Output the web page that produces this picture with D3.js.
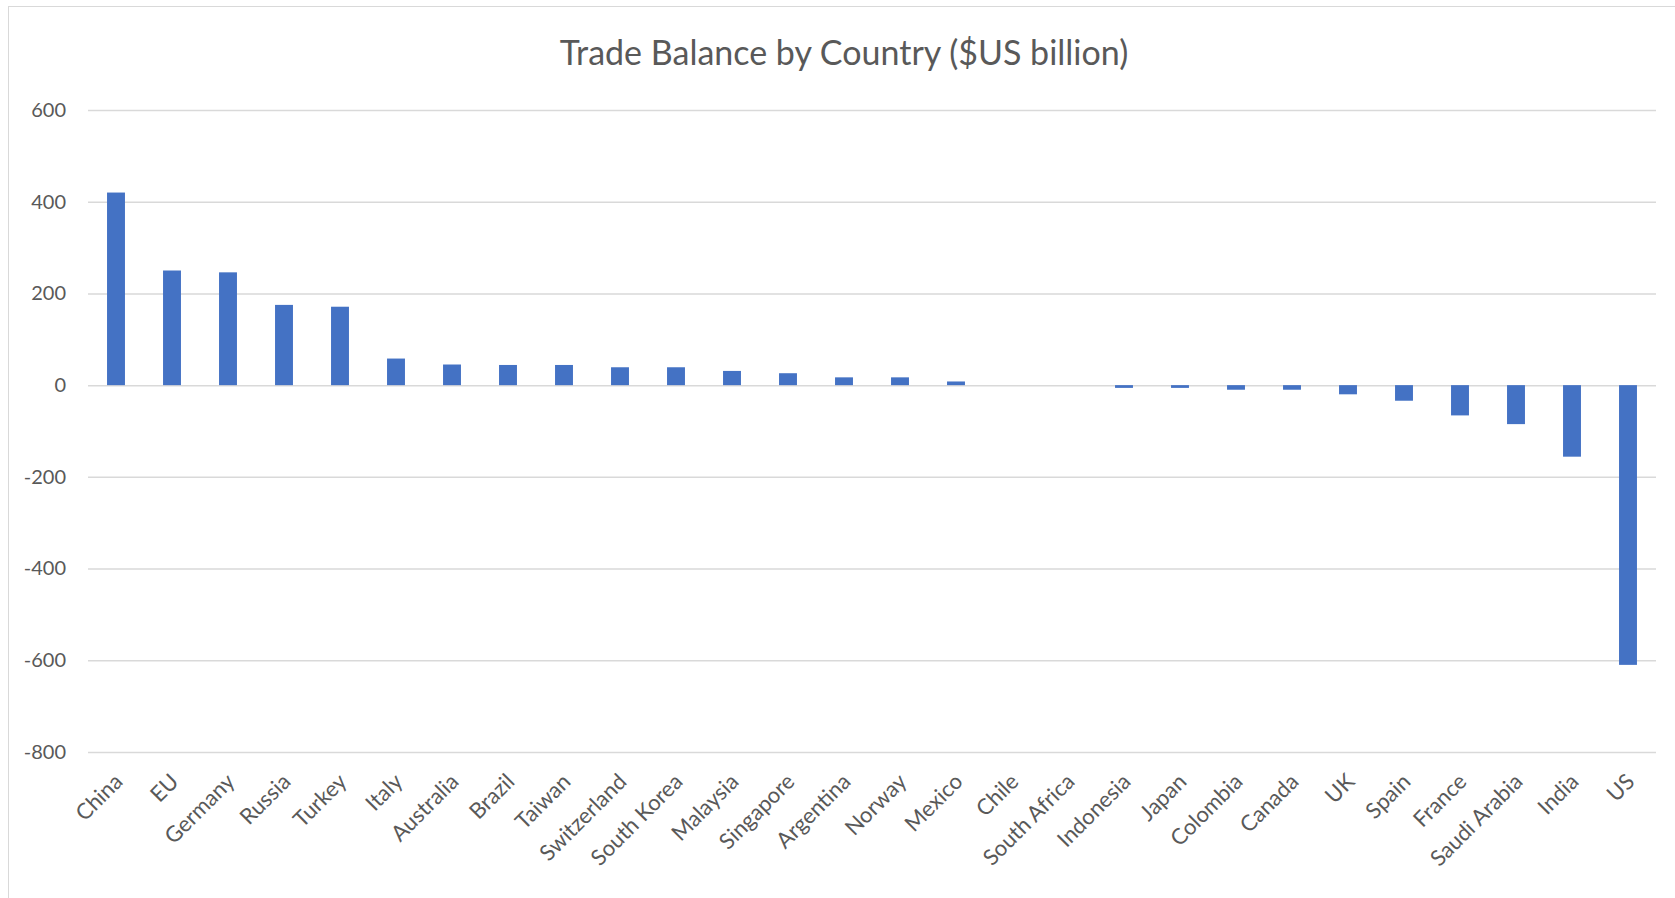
<!DOCTYPE html>
<html>
<head>
<meta charset="utf-8">
<script src="https://cdn.jsdelivr.net/npm/d3@7"></script>
<style>
  body { margin: 0; background: #fff; }
  svg text { font-family: Lato, "Open Sans", sans-serif; fill: #595959; }
</style>
</head>
<body>
<div id="chart"></div>
<script>
// chart data
const countries = ["China", "EU", "Germany", "Russia", "Turkey", "Italy", "Australia", "Brazil",
    "Taiwan", "Switzerland", "South Korea", "Malaysia", "Singapore", "Argentina", "Norway",
    "Mexico", "Chile", "South Africa", "Indonesia", "Japan", "Colombia", "Canada", "UK",
    "Spain", "France", "Saudi Arabia", "India", "US"];
const balance = [420, 250, 246, 175, 171, 58, 45, 44,
    44, 39, 39, 31, 26, 17, 17,
    8, 0, 0, -6, -6, -10, -10, -20,
    -34, -66, -85, -156, -610];
const yTicks = [600, 400, 200, 0, -200, -400, -600, -800];
const title = "Trade Balance by Country ($US billion)";

var width = 1675,
    height = 898,
    plotLeft = 88,
    plotRight = 1656,
    plotTop = 110,
    plotBottom = 752;

var svg = d3.select("#chart")
    .append("svg")
    .attr("width", width)
    .attr("height", height);

// outer chart frame
svg.append("rect")
    .attr("x", 8.5)
    .attr("y", 6.5)
    .attr("width", width)
    .attr("height", height)
    .attr("fill", "#fff")
    .attr("stroke", "#d9d9d9");

var x = d3.scaleBand()
    .domain(countries)
    .range([plotLeft, plotRight])
    .paddingInner(0.68)
    .paddingOuter(0.34);

var y = d3.scaleLinear()
    .domain([d3.min(yTicks), d3.max(yTicks)])
    .range([plotBottom, plotTop]);

// gridlines + y labels (plain hyphen for negatives, like Excel)
var yAxis = svg.append("g")
    .attr("transform", "translate(" + plotLeft + ",0)")
    .call(d3.axisLeft(y)
        .tickValues(yTicks)
        .tickSize(-(plotRight - plotLeft))
        .tickPadding(22)
        .tickFormat(d => String(d)));

yAxis.select(".domain").remove();
yAxis.selectAll("line")
    .attr("stroke", "#d9d9d9")
    .attr("stroke-width", 1.5);
yAxis.selectAll("text")
    .style("font-size", "20px");

// bars
svg.selectAll(".bar")
    .data(balance)
    .enter()
    .append("rect")
    .attr("class", "bar")
    .attr("x", (d, i) => x(countries[i]))
    .attr("y", d => y(Math.max(0, d)))
    .attr("width", x.bandwidth())
    .attr("height", d => Math.abs(y(d) - y(0)))
    .attr("fill", "#4472c4");

// category labels, rotated
svg.selectAll(".xlabel")
    .data(countries)
    .enter()
    .append("text")
    .attr("class", "xlabel")
    .attr("transform", d => "translate(" + (x(d) + x.bandwidth() / 2 + 8) + "," + (plotBottom + 31) + ") rotate(-45)")
    .style("text-anchor", "end")
    .style("font-size", "22px")
    .text(d => d);

// title
svg.append("text")
    .attr("x", 844)
    .attr("y", 65)
    .style("text-anchor", "middle")
    .style("font-size", "34px")
    .text(title);
</script>
</body>
</html>
